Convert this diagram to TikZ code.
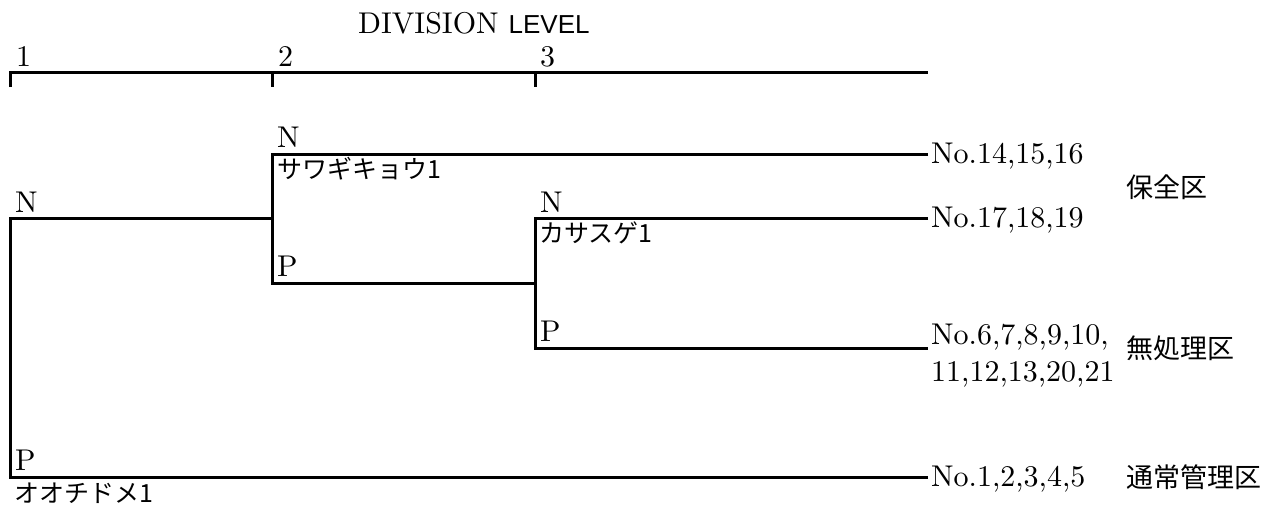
\documentclass[tikz,border=0pt]{standalone}
\usepackage{fontspec}
\newfontfamily\lat{lmroman10-regular.otf}
\newfontfamily\jp{Noto Sans CJK JP}
\newfontfamily\lsans{Liberation Sans}
\begin{document}
\begin{tikzpicture}[x=1pt,y=-1pt,
  tree/.style={line width=3pt, line join=miter},
  lbl/.style={font=\lat\fontsize{30}{33}\selectfont, inner sep=0pt, anchor=base west},
  jlbl/.style={font=\jp\fontsize{25}{28}\selectfont, inner sep=0pt, anchor=base west},
  glbl/.style={font=\jp\fontsize{27}{30}\selectfont, inner sep=0pt, anchor=base west}]
\useasboundingbox (0,0) rectangle (1272,506);
% axis
\coordinate (a0) at (10,72);
\coordinate (a1) at (272,72);
\coordinate (a2) at (535,72);
\coordinate (aend) at (928,72);
\draw[tree] ([yshift=-15pt]a0) -- (a0) -- (aend);
\draw[tree] (a1) -- ++(0,15);
\draw[tree] (a2) -- ++(0,15);
\node[lbl] (t1) at (16,66) {1};
\node[lbl] (t2) at (278,66) {2};
\node[lbl] (t3) at (540,66) {3};
\node[lbl] (title) at (358,34) {DIVISION {\lsans\fontsize{26}{28}\selectfont LEVEL}};
% junctions
\coordinate (n1) at (10,218);
\coordinate (p1) at (10,477);
\coordinate (j2) at (272,218);
\coordinate (n2) at (272,154);
\coordinate (p2) at (272,283);
\coordinate (j3) at (535,283);
\coordinate (n3) at (535,218);
\coordinate (p3) at (535,348);
\coordinate (e1) at (928,154);
\coordinate (e2) at (928,218);
\coordinate (e3) at (928,348);
\coordinate (e4) at (928,477);
\draw[tree] (e4) -- (p1) -- (n1) -- (j2);
\draw[tree] (e1) -- (n2) -- (p2) -- (j3);
\draw[tree] (e2) -- (n3) -- (p3) -- (e3);
% split labels
\node[lbl] (ln1) at (15,212) {N};
\node[lbl] (lp1) at (15,470) {P};
\node[jlbl] (sp1) at (14,502) {オオチドメ1};
\node[lbl] (ln2) at (277,147) {N};
\node[jlbl] (sp2) at (277,178) {サワギキョウ1};
\node[lbl] (lp2) at (277,276) {P};
\node[lbl] (ln3) at (540,212) {N};
\node[jlbl] (sp3) at (539,242) {カサスゲ1};
\node[lbl] (lp3) at (540,341) {P};
% leaves
\node[lbl] (leaf1) at (931,163) {No.14,15,16};
\node[lbl] (leaf2) at (931,227) {No.17,18,19};
\node[lbl] (leaf3a) at (931,344) {No.6,7,8,9,10,};
\node[lbl] (leaf3b) at (931,381) {11,12,13,20,21};
\node[lbl] (leaf4) at (931,486) {No.1,2,3,4,5};
% groups
\node[glbl] (g1) at (1126,197) {保全区};
\node[glbl] (g2) at (1126,358) {無処理区};
\node[glbl] (g3) at (1126,487) {通常管理区};
\end{tikzpicture}
\end{document}
